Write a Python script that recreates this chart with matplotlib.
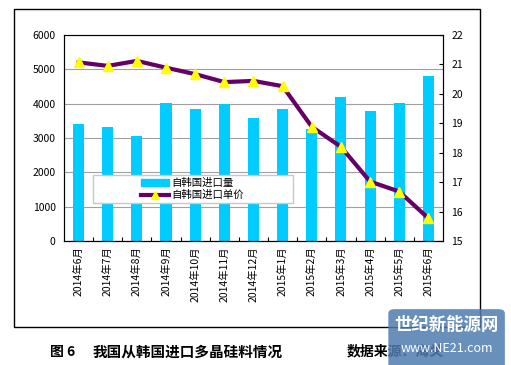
import matplotlib
matplotlib.use("Agg")
import matplotlib.pyplot as plt
from matplotlib.patches import Rectangle, FancyBboxPatch
from matplotlib.lines import Line2D
from matplotlib.patches import Patch

plt.rcParams['font.family'] = ['Noto Sans CJK SC', 'DejaVu Sans']

# data
months = ['2014年6月', '2014年7月', '2014年8月', '2014年9月', '2014年10月', '2014年11月',
          '2014年12月', '2015年1月', '2015年2月', '2015年3月', '2015年4月', '2015年5月',
          '2015年6月']
volume = [3410, 3320, 3060, 4030, 3850, 3990, 3590, 3850, 3260, 4200, 3790, 4020, 4810]
unit_price = [21.07, 20.95, 21.12, 20.89, 20.67, 20.40, 20.44, 20.26, 18.88, 18.20,
              17.02, 16.68, 15.77]
left_ticks = [0, 1000, 2000, 3000, 4000, 5000, 6000]
right_ticks = [15, 16, 17, 18, 19, 20, 21, 22]

fig = plt.figure(figsize=(5.11, 3.65), dpi=100)

# outer frame around the chart
fig.patches.append(Rectangle((0.0274, 0.104), 0.912, 0.871, transform=fig.transFigure,
                             fill=False, edgecolor='black', linewidth=1.0))

ax = fig.add_axes([0.1252, 0.3397, 0.7417, 0.5644])
x = list(range(len(months)))
ax.bar(x, volume, width=0.38, color='#00CCFF', zorder=2)
ax.set_ylim(0, 6000)
ax.set_xlim(-0.5, len(months) - 0.5)
ax.set_yticks(left_ticks)
ax.set_yticklabels([str(t) for t in left_ticks], fontsize=7.5)
ax.yaxis.grid(True, color='#A0A0A0', linewidth=0.8, zorder=0)
ax.set_axisbelow(True)
ax.tick_params(axis='y', length=0, pad=6)

# ticks between categories, text on the categories
ax.set_xticks([i + 0.5 for i in x[:-1]])
ax.set_xticklabels([])
ax.tick_params(axis='x', which='major', direction='in', length=3, color='black')
ax.set_xticks(x, minor=True)
ax.set_xticklabels(months, minor=True, rotation=90, fontsize=7.5)
ax.tick_params(axis='x', which='minor', length=0, pad=4)
for s in ['left', 'bottom', 'right']:
    ax.spines[s].set_color('black')
ax.spines['top'].set_color('#808080')

ax2 = ax.twinx()
ax2.plot(x, unit_price, color='#660066', linewidth=3, marker='^', markersize=7,
         markerfacecolor='#FFFF00', markeredgecolor='#FFFF00', zorder=3)
ax2.set_ylim(15, 22)
ax2.set_yticks(right_ticks)
ax2.set_yticklabels([str(t) for t in right_ticks], fontsize=7.5)
ax2.tick_params(axis='y', direction='in', length=3, pad=6)
ax2.spines['right'].set_color('black')

handles = [Patch(color='#00CCFF'),
           Line2D([], [], color='#660066', linewidth=3, marker='^', markersize=6,
                  markerfacecolor='#FFFF00', markeredgecolor='#FFFF00')]
# legend box drawn as a plain rectangle, entries centred inside it
ax2.add_patch(Rectangle((0.0765, 0.184), 0.528, 0.136, transform=ax2.transAxes,
                        facecolor='white', edgecolor='#C8C8C8', linewidth=1.0, zorder=5))
leg = ax2.legend(handles, ['自韩国进口量', '自韩国进口单价'], loc='center',
                 bbox_to_anchor=(0.34, 0.252), frameon=False, fontsize=7.5,
                 handlelength=2.6, handletextpad=0.3, labelspacing=0.2,
                 borderaxespad=0)
leg.set_zorder(6)

fig.text(0.098, 0.036, '图 6', fontsize=10, fontweight='bold', va='center')
fig.text(0.182, 0.036, '我国从韩国进口多晶硅料情况', fontsize=10.5, fontweight='bold',
         va='center')
fig.text(0.679, 0.036, '数据来源：海关', fontsize=10, fontweight='bold', va='center')

# site watermark in the corner
fig.patches.append(FancyBboxPatch((0.760, -0.02), 0.228, 0.173, transform=fig.transFigure,
                                  boxstyle='round,pad=0.0,rounding_size=0.012',
                                  facecolor='#4F7BB0', edgecolor='none', alpha=0.85,
                                  zorder=10))
fig.text(0.874, 0.110, '世纪新能源网', fontsize=12.5, fontweight='bold', color='white',
         ha='center', va='center', zorder=11)
fig.text(0.874, 0.046, 'www.NE21.com', fontsize=9, color='white',
         ha='center', va='center', zorder=11)

fig.savefig('out.png', dpi=100)
